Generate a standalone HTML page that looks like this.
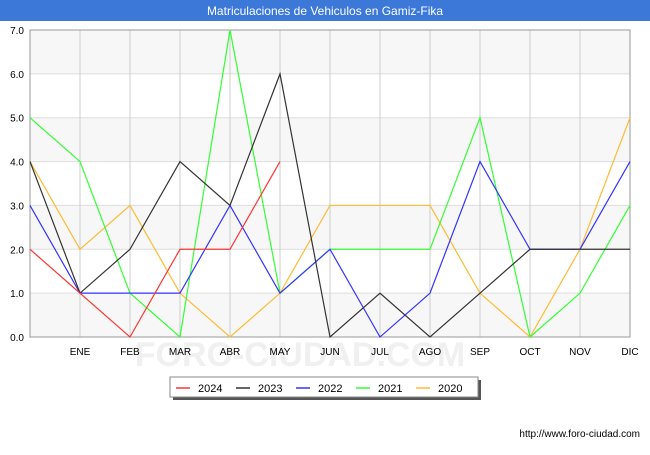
<!DOCTYPE html>
<html><head><meta charset="utf-8"><style>
body{margin:0;background:#fff;font-family:"Liberation Sans",sans-serif}
</style></head><body>
<svg width="650" height="450" xmlns="http://www.w3.org/2000/svg" font-family="Liberation Sans, sans-serif">
<rect x="0" y="0" width="650" height="450" fill="#fff"/>
<rect x="0" y="0" width="650" height="21" fill="#3b78d8"/>
<text x="325" y="15" font-size="12" fill="#fff" text-anchor="middle">Matriculaciones de Vehiculos en Gamiz-Fika</text>
<g id="plot"></g>
<g>
<rect x="173" y="380" width="308" height="20" fill="#555"/>
<rect x="170" y="377" width="308" height="20" fill="#fff" stroke="#888"/>
<g id="legend"></g>
</g>
<text x="640" y="437" font-size="10" fill="#000" text-anchor="end">http://www.foro-ciudad.com</text>
</svg>
<script>
const months=["","ENE","FEB","MAR","ABR","MAY","JUN","JUL","AGO","SEP","OCT","NOV","DIC"];
const yTicks=[0,1,2,3,4,5,6,7];
const names=["2024","2023","2022","2021","2020"];
const colors=["#ff3333","#333333","#3333ff","#33ff33","#ffbb33"];
const s2024=[2,1,0,2,2,4];
const s2023=[4,1,2,4,3,6,0,1,0,1,2,2,2];
const s2022=[3,1,1,1,3,1,2,0,1,4,2,2,4];
const s2021=[5,4,1,0,7,1,2,2,2,5,0,1,3];
const s2020=[4,2,3,1,0,1,3,3,3,1,0,2,5];
const series=[s2024,s2023,s2022,s2021,s2020];
const NS="http://www.w3.org/2000/svg";
const x0=30,x1=630,y0=337,y1=30;
const X=i=>x0+i*(x1-x0)/12;
const Y=v=>y0-v*(y0-y1)/7;
const g=document.getElementById('plot');
function mk(t,a){const e=document.createElementNS(NS,t);for(const k in a)e.setAttribute(k,a[k]);return e;}
for(let v=0;v<7;v+=2){const r=mk('rect',{x:x0,y:Y(v+1),width:x1-x0,height:Y(v)-Y(v+1),fill:'#f7f7f7'});

g.appendChild(r);}
const wm=mk('text',{x:300,y:366,'font-size':34,fill:'#f0f0f0','text-anchor':'middle','font-weight':'bold'});
wm.textContent='FORO-CIUDAD.COM';

g.appendChild(wm);
yTicks.forEach(v=>{const l=mk('line',{x1:x0,x2:x1,y1:Y(v),y2:Y(v),stroke:'#ddd'});

g.appendChild(l);
const t=mk('text',{x:x0-6,y:Y(v)+4,'font-size':10,'text-anchor':'end'});t.textContent=v.toFixed(1);

g.appendChild(t);});
months.forEach((m,i)=>{const l=mk('line',{x1:X(i),x2:X(i),y1:y1,y2:y0,stroke:'#ccc'});

g.appendChild(l);
const t=mk('text',{x:X(i),y:y0+18,'font-size':10,'text-anchor':'middle'});t.textContent=m;

g.appendChild(t);});
const ax=mk('rect',{x:x0,y:y1,width:x1-x0,height:y0-y1,fill:'none',stroke:'#999'});

g.appendChild(ax);
for(let s=series.length-1;s>=0;s--){const p=mk('polyline',{points:series[s].map((v,i)=>X(i)+','+Y(v)).join(' '),fill:'none',stroke:colors[s],'stroke-width':1.2});

g.appendChild(p);}
const lg=document.getElementById('legend');
names.forEach((n,i)=>{const lx=176+i*60;
const l=mk('line',{x1:lx,x2:lx+14,y1:388,y2:388,stroke:colors[i],'stroke-width':1.5});

lg.appendChild(l);
const t=mk('text',{x:lx+22,y:392,'font-size':11});t.textContent=n;

lg.appendChild(t);});
</script>
</body></html>
